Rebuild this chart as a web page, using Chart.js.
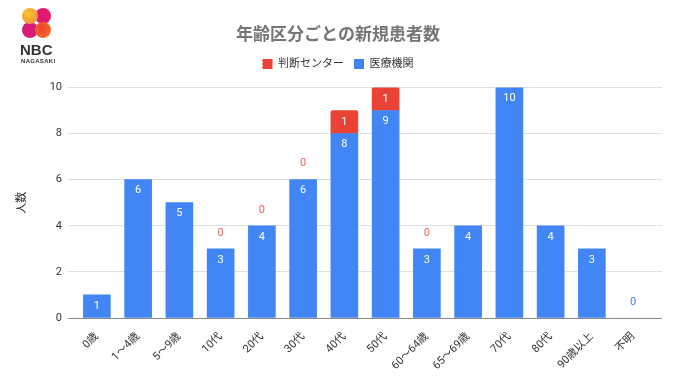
<!DOCTYPE html>
<html><head><meta charset="utf-8">
<script src="https://cdn.jsdelivr.net/npm/chart.js@4/dist/chart.umd.min.js"></script>
<style>
html,body{margin:0;padding:0;background:#fff;}
#wrap{position:relative;width:680px;height:382px;}
#logo{position:absolute;left:21px;top:7px;width:34px;height:34px;}
.c{position:absolute;width:16px;height:16px;border-radius:50%;}
#nbc{position:absolute;left:20px;top:41px;font:bold 15px "Liberation Sans",Arial,sans-serif;color:#333;}
#nag{position:absolute;left:21px;top:58px;font:bold 6px "Liberation Sans",Arial,sans-serif;color:#333;letter-spacing:0.3px;}
</style></head>
<body>
<div id="wrap">
<canvas id="chart" width="680" height="382"></canvas>
<div id="logo">
 <div class="c" style="left:1px;top:15px;background:#d81b79;"></div>
 <div class="c" style="left:14px;top:1px;background:#e3196f;"></div>
 <div class="c" style="left:1px;top:1px;background:radial-gradient(circle at 35% 35%,#fbc531,#f29f3a 60%,#ec6a6a);"></div>
 <div class="c" style="left:14px;top:15px;background:radial-gradient(circle at 40% 40%,#f0402f,#f26a2a 70%,#f4883a);"></div>
</div>
<div id="nbc">NBC</div>
<div id="nag">NAGASAKI</div>
</div>
<script>
const categories = ["0歳","1〜4歳","5〜9歳","10代","20代","30代","40代","50代","60〜64歳","65〜69歳","70代","80代","90歳以上","不明"];
const iryoKikan = [1,6,5,3,4,6,8,9,3,4,10,4,3,0];
const handanCenter = [null,null,null,0,0,0,1,1,0,null,null,null,null,null];
const yTicks = [0,2,4,6,8,10];

const BLUE = "#4285f4", RED = "#ea4335";
const FONT = "Roboto, 'Noto Sans CJK JP', sans-serif";

const toPoints = arr => arr.map((v,i)=>({x:i,y:v}));
const fillFor = color => (c) => (c.raw && c.raw.y === 0) ? "rgba(0,0,0,0)" : color;

const labelPlugin = {
  id:'barLabels',
  afterDatasetsDraw(chart){
    const ctx = chart.ctx;
    ctx.save();
    ctx.font = "11px " + FONT;
    ctx.textAlign = "center";
    ctx.textBaseline = "middle";
    chart.data.datasets.forEach((ds,di)=>{
      const meta = chart.getDatasetMeta(di);
      meta.data.forEach((el,i)=>{
        const v = ds.data[i].y;
        if (v === null || v === undefined) return;
        if (v === 0) {
          ctx.fillStyle = di === 0 ? BLUE : "#e8685c";
          ctx.fillText("0", el.x, el.y - 16);
        } else if (di === 1) {
          ctx.fillStyle = "#fff";
          ctx.fillText(String(v), el.x, (el.y + el.base)/2);
        } else {
          ctx.fillStyle = "#fff";
          ctx.fillText(String(v), el.x, el.y + 11);
        }
      });
    });
    ctx.restore();
  }
};

const legendSpace = {
  id:'legendSpace',
  beforeInit(chart){
    const orig = chart.legend.fit;
    chart.legend.fit = function(){ orig.call(this); this.height += 8; };
  }
};

new Chart(document.getElementById('chart'), {
  type:'bar',
  data:{
    datasets:[
      {label:"医療機関", data:toPoints(iryoKikan), backgroundColor:fillFor(BLUE), barThickness:27},
      {label:"判断センター", data:toPoints(handanCenter), backgroundColor:fillFor(RED), barThickness:27,
       borderRadius:{topLeft:2,topRight:2,bottomLeft:0,bottomRight:0}, borderSkipped:false}
    ]
  },
  options:{
    responsive:false,
    animation:false,
    layout:{padding:{left:14,right:18,top:16,bottom:0}},
    plugins:{
      title:{display:true,text:"年齢区分ごとの新規患者数",color:"#757575",
        font:{family:FONT,size:17,weight:"bold"},padding:{top:10,bottom:2}},
      legend:{display:true,reverse:true,
        labels:{boxWidth:10,boxHeight:10,font:{family:FONT,size:11},color:"#333",padding:10,
          generateLabels(chart){
            return chart.data.datasets.map((ds,i)=>({text:ds.label,fillStyle:i===0?BLUE:RED,strokeStyle:"rgba(0,0,0,0)",lineWidth:0,hidden:false,datasetIndex:i,fontColor:"#333"}));
          }}},
      tooltip:{enabled:false}
    },
    scales:{
      x:{type:'linear',stacked:true,min:-0.7,max:13.7,offset:false,
        grid:{display:false},
        border:{display:false},
        afterBuildTicks(axis){ axis.ticks = categories.map((_,i)=>({value:i})); },
        afterFit(scale){ scale.height = 64; },
        ticks:{autoSkip:false,minRotation:45,maxRotation:45,color:"#333",
          font:{family:FONT,size:11},padding:4,
          callback:(v)=>categories[v]}
      },
      y:{stacked:true,min:0,max:10,
        afterBuildTicks(axis){ axis.ticks = yTicks.map(v=>({value:v})); },
        afterFit(scale){ scale.width = 54; },
        grid:{drawTicks:false,color:(c)=>c.tick && c.tick.value===0 ? "#888" : "#e0e0e0",lineWidth:1},
        border:{display:false},
        ticks:{color:"#333",font:{family:FONT,size:11},padding:6},
        title:{display:true,text:"人数",color:"#222",font:{family:FONT,size:11},padding:{top:2,bottom:0}}
      }
    }
  },
  plugins:[labelPlugin, legendSpace]
});
</script>
</body></html>
